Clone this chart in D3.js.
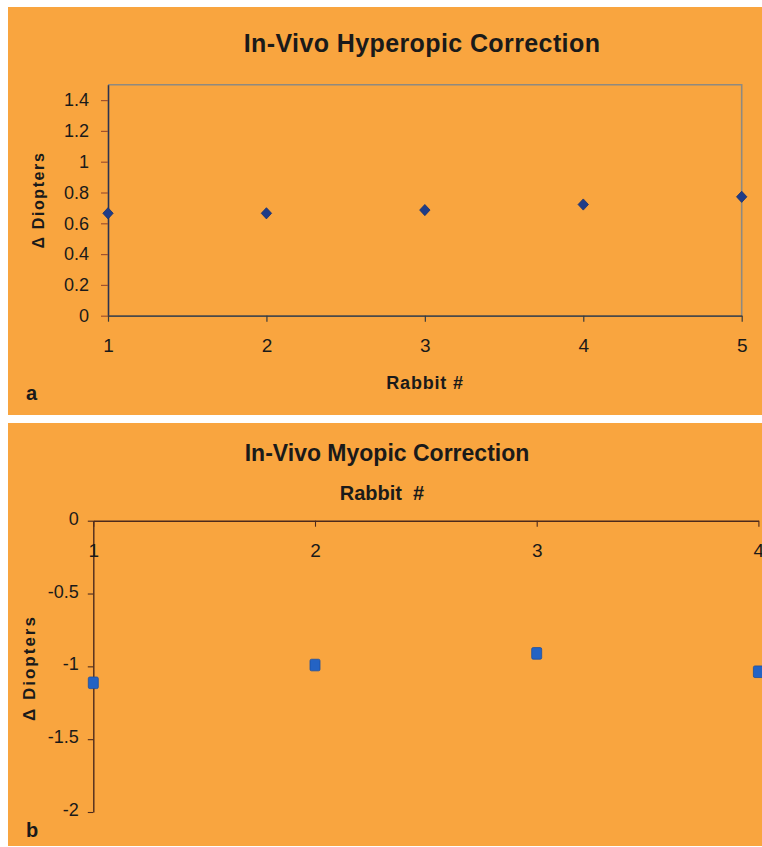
<!DOCTYPE html>
<html>
<head>
<meta charset="utf-8">
<script src="https://cdn.jsdelivr.net/npm/d3@7"></script>
<style>
  html, body { margin: 0; padding: 0; background: #ffffff; }
  svg { display: block; }
  text { font-family: "Liberation Sans", Arial, sans-serif; fill: #1a1a1a; }
</style>
</head>
<body>
<script>
// Panel a: hyperopic correction per rabbit
const rabbitsA = [1, 2, 3, 4, 5];
const hyperopicDelta = [0.665, 0.665, 0.686, 0.722, 0.772];
const yTicksA = [0, 0.2, 0.4, 0.6, 0.8, 1, 1.2, 1.4];
const yTickLabelsA = ["0", "0.2", "0.4", "0.6", "0.8", "1", "1.2", "1.4"];
const xTickLabelsA = ["1", "2", "3", "4", "5"];

// Panel b: myopic correction per rabbit
const rabbitsB = [1, 2, 3, 4];
const myopicDelta = [-1.113, -0.991, -0.911, -1.037];
const yTicksB = [0, -0.5, -1, -1.5, -2];
const yTickLabelsB = ["0", "-0.5", "-1", "-1.5", "-2"];
const xTickLabelsB = ["1", "2", "3", "4"];

const W = 762, H = 847;
const ORANGE = "#F9A53F";

const svg = d3.select("body").append("svg")
  .attr("width", W).attr("height", H);

// panel backgrounds
svg.append("rect").attr("x", 8).attr("y", 7).attr("width", W - 8).attr("height", 408).attr("fill", ORANGE);
svg.append("rect").attr("x", 8).attr("y", 423).attr("width", W - 8).attr("height", 423).attr("fill", ORANGE);

// ---------- Panel a ----------
const xA = d3.scaleLinear().domain([1, 5]).range([108, 741.7]);
const yA = d3.scaleLinear().domain([0, 1.5]).range([315.7, 84.7]);

const gA = svg.append("g");

// plot frame (top and right edges)
gA.append("path")
  .attr("d", `M${xA(1)},${yA(1.5)}H${xA(5)}V${yA(0)}`)
  .attr("fill", "none").attr("stroke", "#8f8a80").attr("stroke-width", 1.6);

const axYA = gA.append("g").attr("transform", `translate(${xA(1)},0)`)
  .call(d3.axisLeft(yA).tickValues(yTicksA).tickSize(7).tickSizeOuter(0).tickPadding(12)
    .tickFormat((d, i) => yTickLabelsA[i]));
axYA.select(".domain").attr("stroke", "#2b3350").attr("stroke-width", 1.6);
axYA.selectAll(".tick line").attr("stroke", "#a0522d").attr("stroke-width", 1.2);
axYA.selectAll(".tick text").attr("font-size", 18).attr("fill", "#1a1a1a")
  .attr("font-family", "'Liberation Sans', Arial, sans-serif");

const axXA = gA.append("g").attr("transform", `translate(0,${yA(0)})`)
  .call(d3.axisBottom(xA).tickValues(rabbitsA).tickSize(6).tickSizeOuter(0).tickPadding(17)
    .tickFormat((d, i) => xTickLabelsA[i]));
axXA.select(".domain").attr("stroke", "#4a4a4a").attr("stroke-width", 1.8);
axXA.selectAll(".tick line").attr("stroke", "#3a3a3a").attr("stroke-width", 1.2);
axXA.selectAll(".tick text").attr("font-size", 19).attr("fill", "#1a1a1a")
  .attr("font-family", "'Liberation Sans', Arial, sans-serif");

// diamond markers
gA.selectAll("path.pt")
  .data(rabbitsA.map((r, i) => ({ r, v: hyperopicDelta[i] })))
  .join("path")
  .attr("class", "pt")
  .attr("transform", d => `translate(${xA(d.r)},${yA(d.v)})`)
  .attr("d", "M0,-5.6L5.2,0L0,5.6L-5.2,0Z")
  .attr("fill", "#1f3c88").attr("stroke", "#18306e").attr("stroke-width", 0.8);

gA.append("text").attr("x", 422).attr("y", 52).attr("text-anchor", "middle")
  .attr("font-size", 25).attr("font-weight", "bold").attr("letter-spacing", 0.4)
  .text("In-Vivo Hyperopic Correction");

gA.append("text").attr("x", 425).attr("y", 389).attr("text-anchor", "middle")
  .attr("font-size", 18).attr("font-weight", "bold").attr("letter-spacing", 0.8)
  .text("Rabbit #");

gA.append("text")
  .attr("transform", "translate(44,200) rotate(-90)")
  .attr("text-anchor", "middle")
  .attr("font-size", 16).attr("font-weight", "bold").attr("letter-spacing", 1.6)
  .text("Δ Diopters");

gA.append("text").attr("x", 26).attr("y", 400)
  .attr("font-family", "'Open Sans', sans-serif").attr("font-size", 20).attr("font-weight", "bold")
  .text("a");

// ---------- Panel b ----------
const xB = d3.scaleLinear().domain([1, 4]).range([93.3, 758.4]);
const yB = d3.scaleLinear().domain([-2, 0]).range([812, 520.7]);

const gB = svg.append("g");
const AXB = "#4d2a1c";

const axYB = gB.append("g").attr("transform", `translate(${xB(1)},0)`)
  .call(d3.axisLeft(yB).tickValues(yTicksB).tickSize(5.5).tickSizeOuter(0).tickPadding(9)
    .tickFormat((d, i) => yTickLabelsB[i]));
axYB.select(".domain").attr("stroke", AXB).attr("stroke-width", 1.4);
axYB.selectAll(".tick line").attr("stroke", AXB).attr("stroke-width", 1.1);
axYB.selectAll(".tick text").attr("font-size", 18).attr("fill", "#1a1a1a").attr("dy", "0.2em")
  .attr("font-family", "'Liberation Sans', Arial, sans-serif");

const axXB = gB.append("g").attr("transform", `translate(0,${yB(0)})`)
  .call(d3.axisBottom(xB).tickValues(rabbitsB).tickSize(6).tickSizeOuter(0).tickPadding(17)
    .tickFormat((d, i) => xTickLabelsB[i]));
axXB.select(".domain").attr("stroke", AXB).attr("stroke-width", 1.4);
axXB.selectAll(".tick line").attr("stroke", AXB).attr("stroke-width", 1.1);
axXB.selectAll(".tick text").attr("font-size", 19).attr("fill", "#1a1a1a")
  .attr("font-family", "'Liberation Sans', Arial, sans-serif");

// square markers
gB.selectAll("rect.pt")
  .data(rabbitsB.map((r, i) => ({ r, v: myopicDelta[i] })))
  .join("rect")
  .attr("class", "pt")
  .attr("x", d => xB(d.r) - 5).attr("y", d => yB(d.v) - 5.8)
  .attr("width", 10).attr("height", 11.6).attr("rx", 1.5)
  .attr("fill", "#2463c4").attr("stroke", "#1d4f9e").attr("stroke-width", 0.8);

gB.append("text").attr("x", 387).attr("y", 461).attr("text-anchor", "middle")
  .attr("font-size", 23).attr("font-weight", "bold")
  .text("In-Vivo Myopic Correction");

gB.append("text").attr("x", 382).attr("y", 500).attr("text-anchor", "middle")
  .attr("font-size", 20).attr("font-weight", "bold").attr("xml:space", "preserve")
  .style("white-space", "pre")
  .text("Rabbit  #");

gB.append("text")
  .attr("transform", "translate(35,668) rotate(-90)")
  .attr("text-anchor", "middle")
  .attr("font-size", 17).attr("font-weight", "bold").attr("letter-spacing", 2)
  .text("Δ Diopters");

gB.append("text").attr("x", 26).attr("y", 837)
  .attr("font-family", "'Open Sans', sans-serif").attr("font-size", 20).attr("font-weight", "bold")
  .text("b");
</script>
</body>
</html>
